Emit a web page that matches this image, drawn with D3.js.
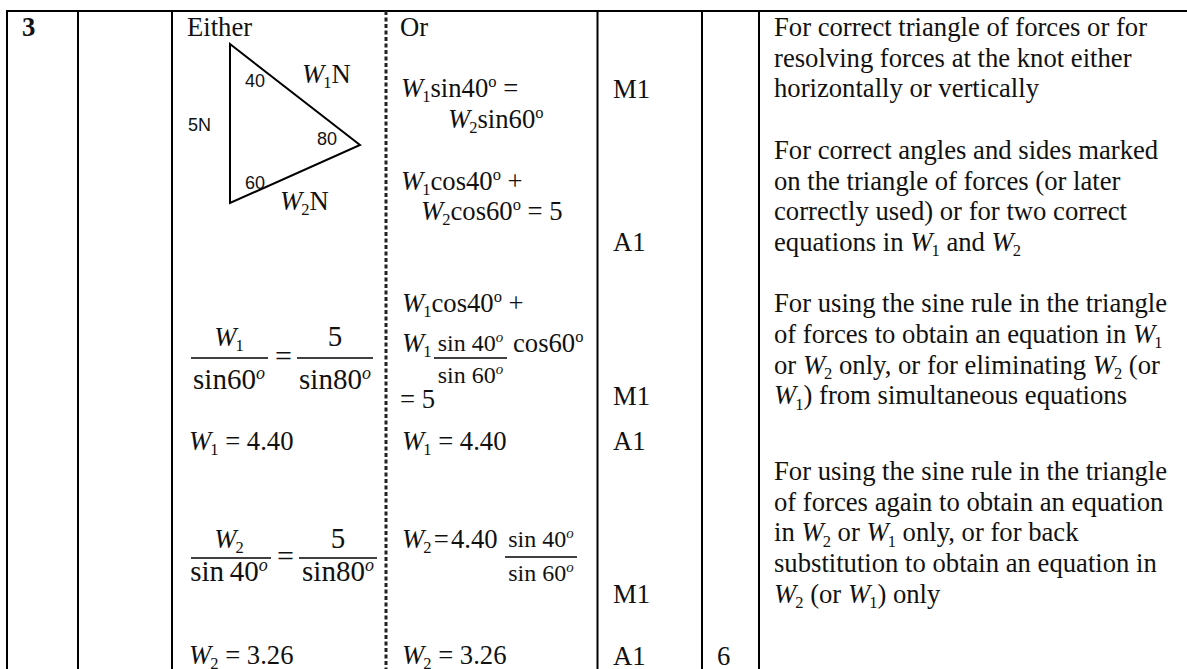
<!DOCTYPE html>
<html>
<head>
<meta charset="utf-8">
<script src="https://cdn.jsdelivr.net/npm/d3@7"></script>
<style>
  html, body { margin: 0; padding: 0; background: #fff; overflow: hidden; }
  svg { display: block; }
  text { font-family: "Liberation Serif", serif; fill: #111; }
</style>
</head>
<body>
<div id="chart"></div>
<script>
// markup used in the strings: *x* italic, _x subscript, ^x superscript, ~x italic superscript
const questionNumber = "3";
const columnHeads = ["Either", "Or"];

const triangleAngles = ["40", "60", "80"];
const triangleSides = ["5N", "*W*_1N", "*W*_2N"];

const eitherWorking = ["*W*_1 = 4.40", "*W*_2 = 3.26"];
const eitherFractions = [
  ["*W*_1", "sin60~o", "5", "sin80~o"],
  ["*W*_2", "sin\u200940~o", "5", "sin80~o"]
];

const orWorking = [
  "*W*_1sin40^o =",
  "*W*_2sin60^o",
  "*W*_1cos40^o +",
  "*W*_2cos60^o = 5",
  "*W*_1cos40^o +",
  "*W*_1",
  "cos60^o",
  "= 5",
  "*W*_1 = 4.40",
  "*W*_2\u200A=\u200A4.40",
  "*W*_2 = 3.26"
];
const orFractions = [
  ["sin 40~o", "sin 60~o"],
  ["sin 40~o", "sin 60~o"]
];

const marks = ["M1", "A1", "M1", "A1", "M1", "A1"];
const totalMark = "6";

const commentLines = [
  "For correct triangle of forces or for",
  "resolving forces at the knot either",
  "horizontally or vertically",
  "",
  "For correct angles and sides marked",
  "on the triangle of forces (or later",
  "correctly used) or for two correct",
  "equations in *W*_1 and *W*_2",
  "",
  "For using the sine rule in the triangle",
  "of forces to obtain an equation in *W*_1",
  "or *W*_2 only, or for eliminating *W*_2 (or",
  "*W*_1) from simultaneous equations",
  "",
  "For using the sine rule in the triangle",
  "of forces again to obtain an equation",
  "in *W*_2 or *W*_1 only, or for back",
  "substitution to obtain an equation in",
  "*W*_2 (or *W*_1) only"
];

// layout
const width = 1187, height = 669;
const tableTop = 11;
const ruleX = [7, 78, 172, 597.5, 702, 759];
const dashX = 386;
const bodySize = 26.67;
const markBase = [98, 251, 405, 450, 603, 665];
const orPos = [
  [401, 97], [448, 128], [401, 190], [421, 220], [402, 312],
  [402, 352], [513, 352], [400, 408], [402, 450], [402, 548], [402, 664]
];
const orFracPos = [{x0: 434, x1: 507, y: 358, top: 351, bot: 383}, {x0: 505, x1: 577, y: 557, top: 547, bot: 581}];
const eitherFracPos = [
  {y: 358, a0: 191, a1: 268, b0: 297, b1: 373, cx: 229, top: 346, bot: 389, eq: 283.5},
  {y: 558, a0: 191, a1: 271, b0: 299, b1: 377, cx: 229, top: 548, bot: 581, eq: 285.5}
];

const svg = d3.select("#chart")
  .append("svg")
  .attr("width", width)
  .attr("height", height)
  .attr("viewBox", `0 0 ${width} ${height}`);

const commentY = d3.scaleLinear().domain([0, 1]).range([36, 66.7]);

// writes one marked up string into a text element as tspans
const writeRich = (sel, str, size) => {
  const tokens = str.match(/\*[^*]+\*|[_^~]\S|[^*_^~]+/g);
  let shift = 0;
  tokens.forEach(tok => {
    const head = tok[0];
    const t = sel.append("tspan");
    let dy = -shift;
    if (head === "*") {
      t.text(tok.slice(1, -1)).style("font-style", "italic");
      shift = 0;
    } else if (head === "_") {
      t.text(tok[1]).style("font-size", `${size * 0.62}px`).attr("dx", -1);
      dy += size * 0.2;
      shift = size * 0.2;
    } else if (head === "^" || head === "~") {
      t.text(tok[1]).style("font-size", `${size * 0.62}px`);
      if (head === "~") t.style("font-style", "italic");
      dy -= size * 0.36;
      shift = -size * 0.36;
    } else {
      t.text(tok);
      shift = 0;
    }
    t.attr("dy", dy);
  });
};

const rich = (str, x, y, size = bodySize, anchor = "start") => {
  const sel = svg.append("text")
    .attr("x", x)
    .attr("y", y)
    .attr("text-anchor", anchor)
    .style("font-size", `${size}px`);
  writeRich(sel, str, size);
  return sel;
};

const rule = (x1, y1, x2, y2, w = 1.6) => svg.append("line")
  .attr("x1", x1).attr("y1", y1).attr("x2", x2).attr("y2", y2)
  .attr("stroke", "#000").attr("stroke-width", w);

// table rules
rule(ruleX[0] - 1, tableTop, width, tableTop, 2);
svg.selectAll("line.col")
  .data(ruleX)
  .join("line")
  .attr("class", "col")
  .attr("x1", d => d).attr("x2", d => d)
  .attr("y1", tableTop).attr("y2", height)
  .attr("stroke", "#000")
  .attr("stroke-width", 2);

svg.append("line")
  .attr("x1", dashX).attr("x2", dashX)
  .attr("y1", tableTop).attr("y2", height)
  .attr("stroke", "#222")
  .attr("stroke-width", 3)
  .attr("stroke-dasharray", "4 2.5");

// first columns
rich(questionNumber, 22, 36).style("font-weight", "bold");
rich(columnHeads[0], 187, 36);
rich(columnHeads[1], 400, 36);

// triangle of forces
const triangle = [[230, 44], [230, 203], [360, 145]];
svg.append("path")
  .attr("d", d3.line()(triangle) + "Z")
  .attr("fill", "none")
  .attr("stroke", "#000")
  .attr("stroke-width", 2);

const anglePos = [[245, 87], [245, 189], [317, 145]];
svg.selectAll("text.angle")
  .data(triangleAngles)
  .join("text")
  .attr("class", "angle")
  .attr("x", (d, i) => anglePos[i][0])
  .attr("y", (d, i) => anglePos[i][1])
  .style("font-family", "'Liberation Sans', sans-serif")
  .style("font-size", "18px")
  .text(d => d);

rich(triangleSides[0], 188, 131, 18).selectAll("tspan").style("font-family", "'Liberation Sans', sans-serif");
rich(triangleSides[1], 302, 83);
rich(triangleSides[2], 280, 210);

// either column
eitherFractions.forEach((f, i) => {
  const p = eitherFracPos[i];
  rich(f[0], p.cx, p.top, 26.67, "middle");
  rich(f[1], p.cx, p.bot, 29, "middle");
  rich(f[2], (p.b0 + p.b1) / 2, p.top, 29, "middle");
  rich(f[3], (p.b0 + p.b1) / 2, p.bot, 29, "middle");
  rule(p.a0, p.y, p.a1, p.y);
  rule(p.b0, p.y, p.b1, p.y);
  rich("=", p.eq, p.y + 8, 30, "middle");
});
rich(eitherWorking[0], 189, 450);
rich(eitherWorking[1], 189, 664);

// or column
orWorking.forEach((s, i) => rich(s, orPos[i][0], orPos[i][1]));
orFractions.forEach((f, i) => {
  const p = orFracPos[i];
  rich(f[0], (p.x0 + p.x1) / 2, p.top, 24, "middle");
  rich(f[1], (p.x0 + p.x1) / 2, p.bot, 24, "middle");
  rule(p.x0, p.y, p.x1, p.y);
});

// marks
marks.forEach((m, i) => rich(m, 613, markBase[i]));
rich(totalMark, 717, 665);

// examiner comments
commentLines.forEach((line, i) => {
  if (!line) return;
  const row = i > 13 ? i + 0.46 : i;
  rich(line, 774, commentY(row));
});
</script>
</body>
</html>
